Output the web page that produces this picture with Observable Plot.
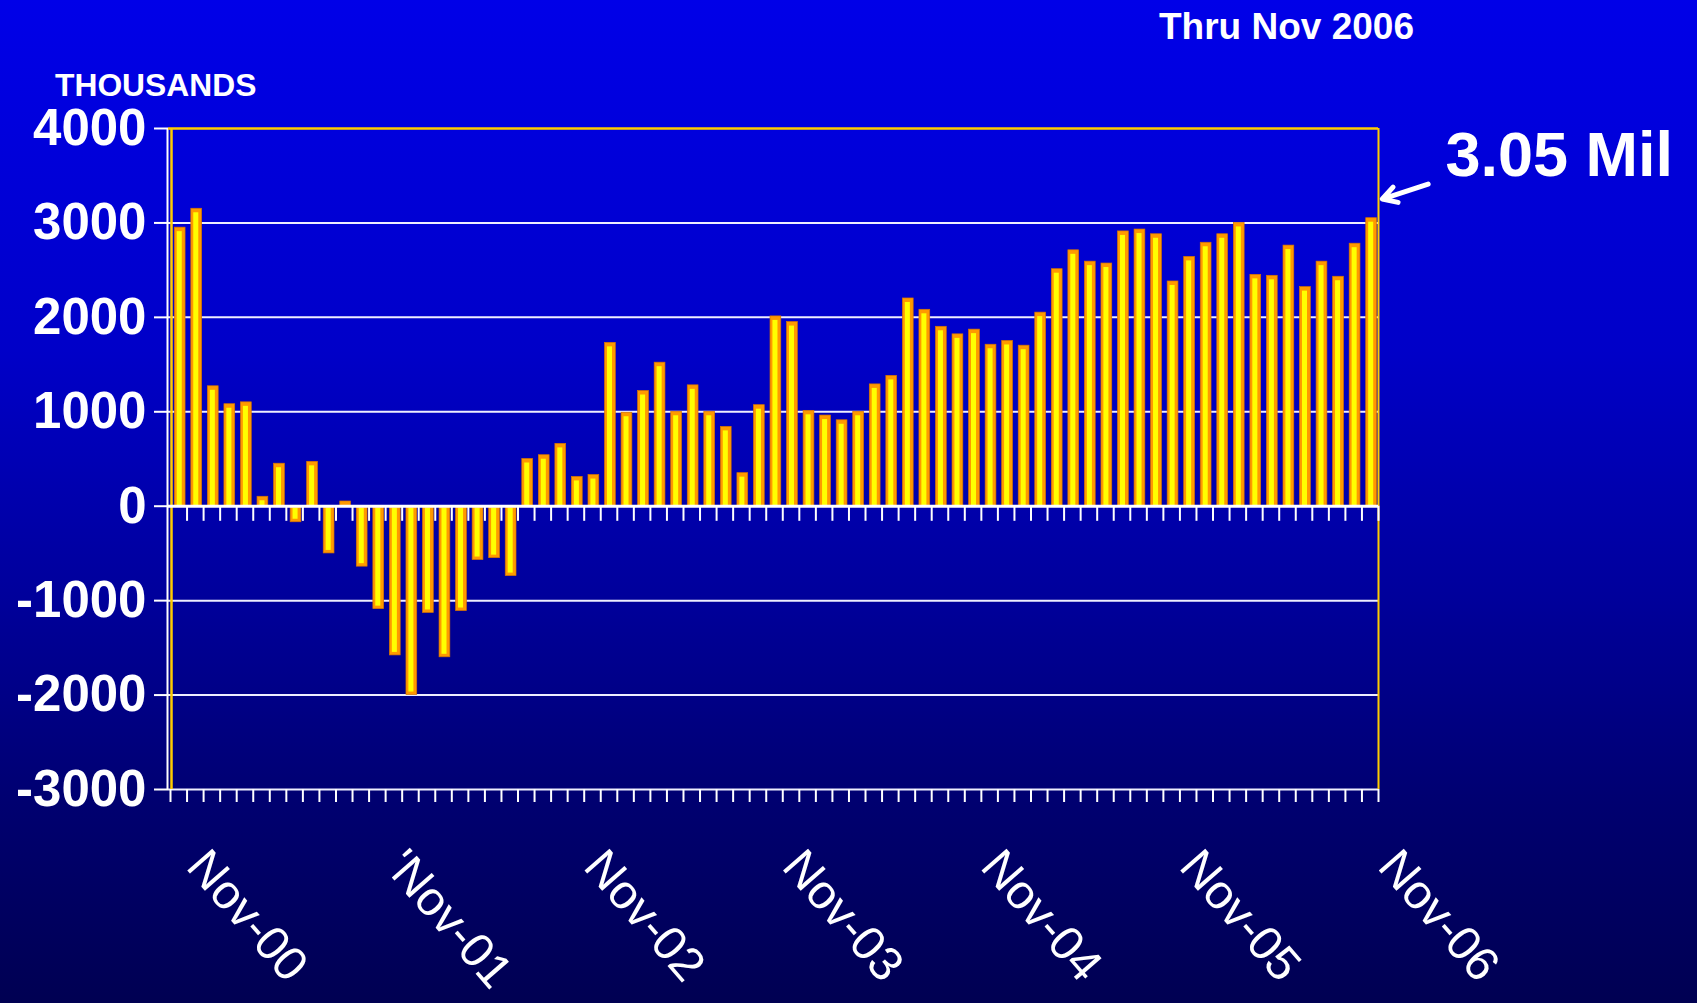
<!DOCTYPE html>
<html>
<head>
<meta charset="utf-8">
<script src="https://cdn.jsdelivr.net/npm/d3@7"></script>
<script src="https://cdn.jsdelivr.net/npm/@observablehq/plot@0.6"></script>
<style>
  html, body { margin: 0; padding: 0; }
  body {
    width: 1697px; height: 1003px; overflow: hidden; position: relative;
    background: linear-gradient(to bottom, #0000E8 0%, #0000C8 35%, #00009A 60%, #000070 80%, #000052 100%);
    font-family: "Liberation Sans", Arial, sans-serif; color: white;
  }
  #chart { position: absolute; left: 0; top: 0; }
  .note { position: absolute; font-weight: bold; white-space: nowrap; line-height: 1; }
</style>
</head>
<body>
<div id="chart"></div>
<div class="note" id="thru" style="left:1159px; top:8px; font-size:37px;"></div>
<div class="note" id="units" style="left:55px; top:70px; font-size:31.8px;"></div>
<script>
// ---- data ----
const subtitle = "Thru Nov 2006";
const unitsLabel = "THOUSANDS";
// Monthly job change, thousands, Nov-00 .. Nov-06 (73 months)
const values = [
  2950, 3150, 1270, 1080, 1100, 100, 450, -170, 470, -500,
  50, -640, -1090, -1580, -2000, -1130, -1600, -1110, -570, -550,
  -740, 500, 540, 660, 310, 330, 1730, 990, 1220, 1520,
  1000, 1280, 1000, 840, 350, 1070, 2010, 1950, 1010, 960,
  910, 1000, 1290, 1380, 2200, 2080, 1900, 1820, 1870, 1710,
  1750, 1700, 2050, 2510, 2710, 2590, 2570, 2910, 2930, 2880,
  2380, 2640, 2790, 2880, 3000, 2450, 2440, 2760, 2320, 2590,
  2430, 2780, 3050
];
const tickLabels = ["Nov-00", "'Nov-01", "Nov-02", "Nov-03", "Nov-04", "Nov-05", "Nov-06"];
const tickLabelMonths = [0, 12, 24, 36, 48, 60, 72];
const yTicks = [-3000, -2000, -1000, 0, 1000, 2000, 3000, 4000];
const gridValues = [-3000, -2000, -1000, 1000, 2000, 3000];
const annotationText = "3.05 Mil";

document.getElementById("thru").textContent = subtitle;
document.getElementById("units").textContent = unitsLabel;

const n = values.length;
const data = values.map((v, i) => ({i, v}));
const pos = data.filter(d => d.v >= 0);
const neg = data.filter(d => d.v < 0);
const boundaries = d3.range(n + 1);
const last = data[n - 1];

const ORANGE = "#FF9900", YELLOW = "#FFFF00", GOLD = "#FFCC00";

const barBase = {x1: d => d.i, x2: d => d.i + 1, y1: () => 0, y2: d => d.v};

const chart = Plot.plot({
  width: 1697,
  height: 1003,
  marginLeft: 168,
  marginRight: 319,
  marginTop: 128,
  marginBottom: 214,
  style: {background: "transparent", color: "white", fontFamily: "'Liberation Sans', Arial, sans-serif", overflow: "visible"},
  x: {type: "linear", domain: [0, n], range: [170, 1378]},
  y: {domain: [-3000, 4000]},
  marks: [
    Plot.ruleY(gridValues, {stroke: "#EEEEFF", strokeWidth: 2}),
    Plot.axisY({ticks: yTicks, tickSize: 14, tickPadding: 8, tickFormat: d => String(d),
                fontSize: 51, fontWeight: "bold", strokeWidth: 2, label: null}),
    Plot.axisX({ticks: boundaries, tickSize: 13, tickFormat: () => "", strokeWidth: 2, label: null}),
    Plot.ruleX([0], {dx: -3, stroke: "white", strokeWidth: 2}),
    Plot.ruleX([0], {dx: 1, stroke: GOLD, strokeWidth: 2.5}),
    Plot.ruleX([n], {stroke: GOLD, strokeWidth: 2}),
    Plot.ruleY([4000], {stroke: GOLD, strokeWidth: 2.5}),
    // bars: orange body + yellow highlight stripe
    Plot.rectY(pos, {...barBase, fill: ORANGE, stroke: "#D87400", strokeWidth: 0.7, insetLeft: 4.3, insetRight: 1.5}),
    Plot.rectY(neg, {...barBase, fill: ORANGE, stroke: "#D87400", strokeWidth: 0.7, insetLeft: 4.3, insetRight: 1.5}),
    Plot.rectY(pos, {...barBase, fill: YELLOW, insetLeft: 6.7, insetRight: 4.8, insetTop: 4}),
    Plot.rectY(neg, {...barBase, fill: YELLOW, insetLeft: 6.7, insetRight: 4.8, insetTop: 2, insetBottom: 3}),
    // ticks below zero line
    Plot.ruleX(boundaries.slice(1), {x: d => d, y1: () => 0, y2: () => -160, stroke: "white", strokeWidth: 2}),
    Plot.ruleY([0], {stroke: "white", strokeWidth: 3}),
    // month labels
    Plot.text(tickLabelMonths, {x: d => d + 0.5, frameAnchor: "bottom", text: (d, i) => tickLabels[i],
      rotate: 49, textAnchor: "start", fontSize: 48, dx: 6, dy: 78, fill: "white"}),
    // annotation
    Plot.text([last], {x: d => d.i + 1, y: d => d.v, text: () => annotationText, textAnchor: "start",
      fontSize: 63, fontWeight: "bold", fill: "white", dx: 67, dy: -62}),
    Plot.arrow([last], {x1: d => d.i + 4.0, y1: d => d.v + 361, x2: d => d.i + 1.23, y2: d => d.v + 203,
      stroke: "white", strokeWidth: 5, headLength: 10})
  ]
});
document.getElementById("chart").appendChild(chart);
</script>
</body>
</html>
